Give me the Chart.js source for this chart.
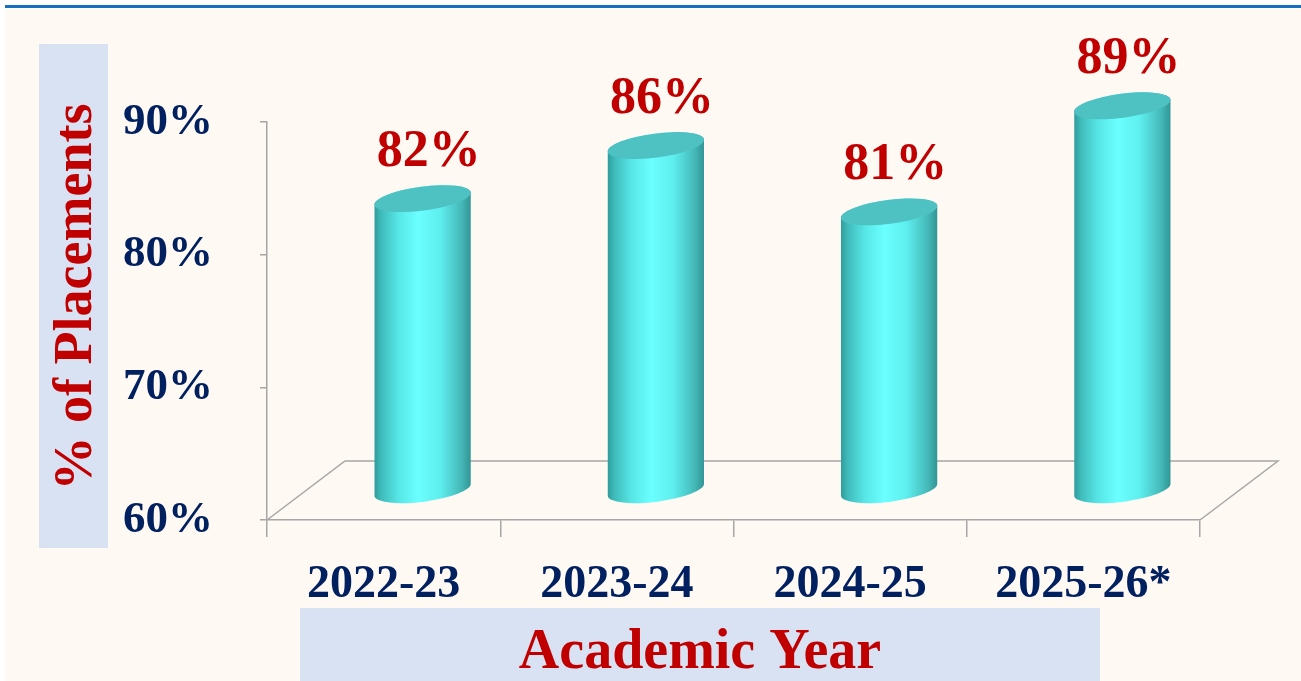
<!DOCTYPE html>
<html>
<head>
<meta charset="utf-8">
<script src="https://cdn.jsdelivr.net/npm/chart.js@4.4.1/dist/chart.umd.min.js"></script>
<style>
  html, body { margin: 0; padding: 0; background: #fff; overflow: hidden; }
  canvas { display: block; }
</style>
</head>
<body>
<canvas id="chart" width="1301" height="681"></canvas>
<script>
const years = ['2022-23', '2023-24', '2024-25', '2025-26*'];
const placements = [82, 86, 81, 89];
const yTicks = [60, 70, 80, 90];

const SERIF = "'Liberation Serif', 'Times New Roman', serif";
const NAVY = '#002060';
const RED = '#C00000';
const GREY = '#A6A6A6';
const DEPTH_X = 78, DEPTH_Y = -59;

// background, title boxes, floor
const backdrop = {
    id: 'backdrop',
    beforeDraw(chart) {
        const { ctx } = chart;
        ctx.save();
        ctx.fillStyle = '#fff';
        ctx.fillRect(0, 0, chart.width, chart.height);
        ctx.fillStyle = '#FEF9F2';
        ctx.fillRect(5, 8, chart.width - 5, chart.height - 8);
        ctx.fillStyle = '#1470C2';
        ctx.fillRect(5, 5, chart.width - 5, 3);

        ctx.fillStyle = '#D9E2F3';
        ctx.fillRect(39, 44, 69, 504);
        ctx.fillRect(300, 608, 800, 73);

        ctx.fillStyle = RED;
        ctx.font = `bold 56px ${SERIF}`;
        ctx.textAlign = 'center';
        ctx.textBaseline = 'middle';
        ctx.fillText('Academic Year', 700, 654);

        ctx.translate(77, 297);
        ctx.rotate(-Math.PI / 2);
        ctx.font = `bold 54px ${SERIF}`;
        ctx.fillText('% of Placements', 0, 0);
        ctx.restore();
    },
    beforeDatasetsDraw(chart) {
        const { ctx, chartArea: a } = chart;
        ctx.save();
        ctx.strokeStyle = GREY;
        ctx.lineWidth = 1.5;
        ctx.beginPath();
        ctx.moveTo(a.left, a.bottom);
        ctx.lineTo(a.left + DEPTH_X, a.bottom + DEPTH_Y);
        ctx.lineTo(a.right + DEPTH_X, a.bottom + DEPTH_Y);
        ctx.lineTo(a.right, a.bottom);
        ctx.stroke();
        ctx.restore();
    }
};

// draws each bar as a cylinder standing in the middle of the floor depth
const cylinders = {
    id: 'cylinders',
    afterDatasetsDraw(chart) {
        const { ctx } = chart;
        const meta = chart.getDatasetMeta(0);
        const rot = -0.13;
        ctx.save();
        meta.data.forEach((bar, i) => {
            const { x, y, base, width } = bar.getProps(['x', 'y', 'base', 'width'], true);
            const cx = x + DEPTH_X / 2;
            const top = y + DEPTH_Y / 2;
            const bot = base + DEPTH_Y / 2;
            const rx = width / 2, ry = 12;
            const ox = rx * Math.cos(rot), oy = rx * Math.sin(rot);

            const g = ctx.createLinearGradient(cx - rx, 0, cx + rx, 0);
            g.addColorStop(0, '#2E9A9A');
            g.addColorStop(0.07, '#3FBABA');
            g.addColorStop(0.25, '#57E6E6');
            g.addColorStop(0.45, '#6BFFFF');
            g.addColorStop(0.68, '#5EEEEE');
            g.addColorStop(0.9, '#45B8B8');
            g.addColorStop(1, '#2F9494');

            ctx.beginPath();
            ctx.moveTo(cx - ox, top - oy);
            ctx.lineTo(cx - ox, bot - oy);
            ctx.ellipse(cx, bot, rx, ry, rot, Math.PI, 0, true);
            ctx.lineTo(cx + ox, top + oy);
            ctx.ellipse(cx, top, rx, ry, rot, 0, -Math.PI, true);
            ctx.closePath();
            ctx.fillStyle = g;
            ctx.fill();

            ctx.beginPath();
            ctx.ellipse(cx, top, rx, ry, rot, 0, Math.PI * 2);
            ctx.fillStyle = '#4EC2C2';
            ctx.fill();

            ctx.fillStyle = RED;
            ctx.font = `bold 52px ${SERIF}`;
            ctx.textAlign = 'center';
            ctx.textBaseline = 'middle';
            ctx.fillText(placements[i] + '%', cx + 6, top - 46);
        });
        ctx.restore();
    }
};

new Chart(document.getElementById('chart'), {
    type: 'bar',
    data: {
        labels: years,
        datasets: [{
            data: placements,
            base: 60,
            backgroundColor: 'rgba(0,0,0,0)',
            borderWidth: 0,
            barPercentage: 0.416,
            categoryPercentage: 1,
        }],
    },
    options: {
        responsive: false,
        animation: false,
        devicePixelRatio: 1,
        layout: { padding: { top: 122, right: 101, left: 0, bottom: 0 } },
        plugins: {
            legend: { display: false },
            tooltip: { enabled: false },
        },
        scales: {
            y: {
                min: 60,
                max: 90,
                afterBuildTicks(s) { s.ticks = yTicks.map(v => ({ value: v })); },
                afterFit(s) { s.width = 267; },
                ticks: {
                    callback: v => v + '%',
                    color: NAVY,
                    font: { family: SERIF, weight: 'bold', size: 45 },
                    padding: 47,
                },
                grid: { drawOnChartArea: false, tickLength: 7, color: GREY, lineWidth: 1.5 },
                border: { color: GREY, width: 1.5 },
            },
            x: {
                afterFit(s) { s.height = 161; },
                ticks: {
                    color: NAVY,
                    font: { family: SERIF, weight: 'bold', size: 46 },
                    padding: 21,
                },
                grid: { drawOnChartArea: false, tickLength: 17, color: GREY, lineWidth: 1.5, offset: true },
                border: { color: GREY, width: 1.5 },
            },
        },
    },
    plugins: [backdrop, cylinders],
});
</script>
</body>
</html>
